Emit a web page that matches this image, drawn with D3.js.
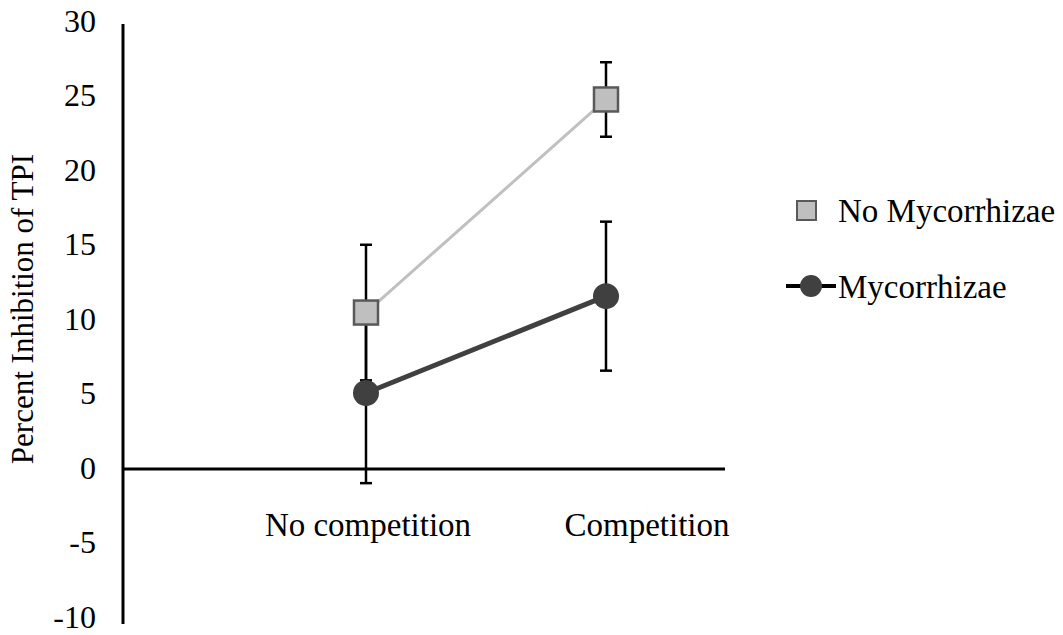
<!DOCTYPE html>
<html>
<head>
<meta charset="utf-8">
<script src="https://cdn.jsdelivr.net/npm/d3@7"></script>
<style>
  body { margin: 0; background: #fff; }
  svg { display: block; }
</style>
</head>
<body>
<svg id="chart" width="1063" height="635"></svg>
<script>

const categories = ["No competition", "Competition"];
const yTicks = [-10, -5, 0, 5, 10, 15, 20, 25, 30];

const noMyc = [10.5, 24.8];
const noMycErr = [4.55, 2.5];
const myc = [5.1, 11.6];
const mycErr = [6.05, 5.0];

const series = [
  { name: "No Mycorrhizae", values: noMyc, err: noMycErr,
    line: "#c0c0c0", lineW: 3, marker: "square" },
  { name: "Mycorrhizae", values: myc, err: mycErr,
    line: "#404040", lineW: 5, marker: "circle" }
];

const serif = "'Liberation Serif', 'Times New Roman', serif";
const svg = d3.select("#chart");

const axisX = 123, axisRight = 725;

const x = d3.scalePoint().domain(categories).range([366, 606]);
const y = d3.scaleLinear().domain([-10, 30]).range([618, 22]);

// y axis line (no ticks)
svg.append("line")
  .attr("x1", axisX).attr("x2", axisX)
  .attr("y1", y(30) + 2).attr("y2", y(-10) + 6)
  .attr("stroke", "#000").attr("stroke-width", 3);

// tick labels
svg.append("g").selectAll("text")
  .data(yTicks)
  .join("text")
  .attr("x", 96)
  .attr("y", d => y(d))
  .attr("dy", "0.3em")
  .attr("text-anchor", "end")
  .style("font-family", serif)
  .style("font-size", "32px")
  .text(d => d);

// zero line acts as category axis
svg.append("line")
  .attr("x1", axisX).attr("x2", axisRight)
  .attr("y1", y(0)).attr("y2", y(0))
  .attr("stroke", "#000").attr("stroke-width", 3);

// category labels (Excel puts them a little off the points)
const labelShift = { "No competition": 2, "Competition": 41 };
svg.append("g").selectAll("text")
  .data(categories)
  .join("text")
  .attr("x", d => x(d) + labelShift[d])
  .attr("y", 536)
  .attr("text-anchor", "middle")
  .style("font-family", serif)
  .style("font-size", "33px")
  .text(d => d);

// axis title
svg.append("text")
  .attr("transform", `translate(33, 309) rotate(-90)`)
  .attr("text-anchor", "middle")
  .style("font-family", serif)
  .style("font-size", "31px")
  .text("Percent Inhibition of TPI");

const line = d3.line()
  .x((d, i) => x(categories[i]))
  .y(d => y(d));

// lines first
series.forEach(s => {
  svg.append("path")
    .datum(s.values)
    .attr("fill", "none")
    .attr("stroke", s.line)
    .attr("stroke-width", s.lineW)
    .attr("d", line);
});

// error bars
series.forEach(s => {
  const g = svg.append("g").attr("stroke", "#000").attr("stroke-width", 2.5);
  s.values.forEach((v, i) => {
    const cx = x(categories[i]);
    const lo = y(v - s.err[i]), hi = y(v + s.err[i]);
    g.append("line").attr("x1", cx).attr("x2", cx).attr("y1", lo).attr("y2", hi);
    g.append("line").attr("x1", cx - 6).attr("x2", cx + 6).attr("y1", lo).attr("y2", lo);
    g.append("line").attr("x1", cx - 6).attr("x2", cx + 6).attr("y1", hi).attr("y2", hi);
  });
});

// markers
series.forEach(s => {
  s.values.forEach((v, i) => {
    const cx = x(categories[i]), cy = y(v);
    if (s.marker === "square") {
      svg.append("rect")
        .attr("x", cx - 12).attr("y", cy - 12)
        .attr("width", 24).attr("height", 24)
        .attr("fill", "#bfbfbf").attr("stroke", "#595959").attr("stroke-width", 2.5);
    } else {
      svg.append("circle")
        .attr("cx", cx).attr("cy", cy).attr("r", 13)
        .attr("fill", "#404040");
    }
  });
});

// legend
const leg = svg.append("g");
leg.append("rect")
  .attr("x", 797).attr("y", 201).attr("width", 19).attr("height", 19)
  .attr("fill", "#bfbfbf").attr("stroke", "#595959").attr("stroke-width", 2);
leg.append("text")
  .attr("x", 838).attr("y", 210).attr("dy", "0.35em")
  .style("font-family", serif)
  .style("font-size", "33px")
  .text(series[0].name);

leg.append("line")
  .attr("x1", 786).attr("x2", 836).attr("y1", 286).attr("y2", 286)
  .attr("stroke", "#000").attr("stroke-width", 4);
leg.append("circle")
  .attr("cx", 811).attr("cy", 286).attr("r", 11)
  .attr("fill", "#404040");
leg.append("text")
  .attr("x", 838).attr("y", 286).attr("dy", "0.35em")
  .style("font-family", serif)
  .style("font-size", "33px")
  .text(series[1].name);

</script>
</body>
</html>
